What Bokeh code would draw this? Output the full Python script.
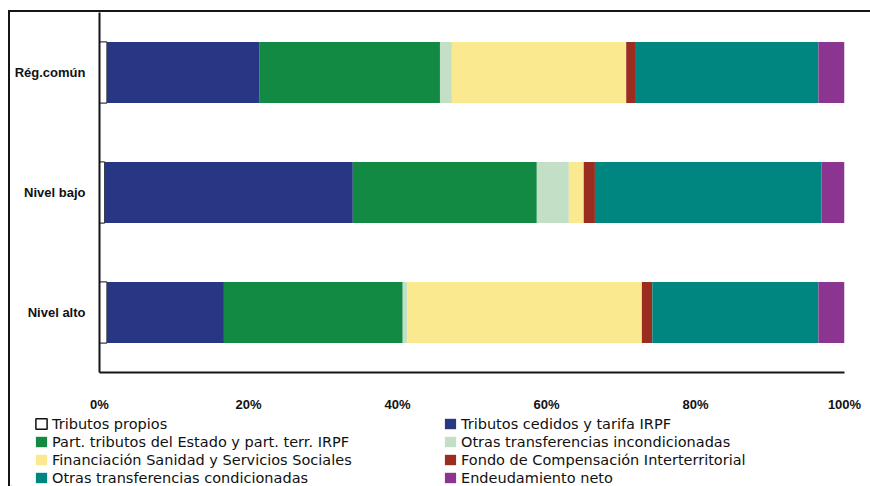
from bokeh.plotting import figure
from bokeh.layouts import column
from bokeh.models import Legend, LegendItem, Range1d, FactorRange, FixedTicker, PrintfTickFormatter
from bokeh.embed import file_html
from bokeh.resources import INLINE

# Regional groups (top to bottom) and the share (%) of each financing source
groups = ["Rég.común", "Nivel bajo", "Nivel alto"]

tributos_propios = [1.0, 0.7, 1.0]
tributos_cedidos = [20.5, 33.3, 15.7]
part_tributos_estado = [24.2, 24.7, 24.0]
otras_incondicionadas = [1.6, 4.3, 0.6]
financiacion_sanidad = [23.4, 2.0, 31.5]
fondo_compensacion = [1.3, 1.5, 1.4]
otras_condicionadas = [24.5, 30.4, 22.3]
endeudamiento_neto = [3.5, 3.1, 3.5]

series_keys = ["propios", "cedidos", "part", "incond", "sanidad", "fci", "cond", "deuda"]
series_labels = [
    "Tributos propios",
    "Tributos cedidos y tarifa IRPF",
    "Part. tributos del Estado y part. terr. IRPF",
    "Otras transferencias incondicionadas",
    "Financiación Sanidad y Servicios Sociales",
    "Fondo de Compensación Interterritorial",
    "Otras transferencias condicionadas",
    "Endeudamiento neto",
]
series_colors = ["#ffffff", "#283783", "#138a43", "#c3e0c6",
                 "#fae98f", "#9b2d20", "#008681", "#8b3590"]
series_lines = ["#111111", None, None, None, None, None, None, None]
x_ticks = [0, 20, 40, 60, 80, 100]

data = dict(
    group=groups,
    propios=tributos_propios,
    cedidos=tributos_cedidos,
    part=part_tributos_estado,
    incond=otras_incondicionadas,
    sanidad=financiacion_sanidad,
    fci=fondo_compensacion,
    cond=otras_condicionadas,
    deuda=endeudamiento_neto,
)

# --- stacked bar chart ---
p = figure(
    width=860, height=402,
    y_range=FactorRange(*reversed(groups), range_padding=0),
    x_range=Range1d(0, 100),
    output_backend="svg", toolbar_location=None, title=None,
    min_border_left=89, min_border_right=26, min_border_top=0, min_border_bottom=40,
)
p.frame_align = False

p.hbar_stack(
    series_keys, y="group", height=0.51, source=data,
    fill_color=series_colors, line_color=series_lines, line_width=1,
)

p.outline_line_color = None
p.grid.visible = False

p.xaxis.ticker = FixedTicker(ticks=x_ticks)
p.xaxis.formatter = PrintfTickFormatter(format="%d%%")
p.xaxis.major_tick_line_color = None
p.xaxis.minor_tick_line_color = None
p.xaxis.major_label_standoff = 18
p.xaxis.axis_line_width = 2
p.xaxis.axis_line_color = "#151515"
p.xaxis.major_label_text_font = "Liberation Sans"
p.xaxis.major_label_text_font_style = "bold"
p.xaxis.major_label_text_font_size = "13px"
p.xaxis.major_label_text_color = "#111111"

p.yaxis.major_tick_line_color = None
p.yaxis.minor_tick_line_color = None
p.yaxis.major_label_standoff = 8
p.yaxis.axis_line_width = 2
p.yaxis.axis_line_color = "#151515"
p.yaxis.major_label_text_font = "Liberation Sans"
p.yaxis.major_label_text_font_style = "bold"
p.yaxis.major_label_text_font_size = "13px"
p.yaxis.major_label_text_color = "#111111"

# --- legend strip below the chart: two columns, read row by row ---
lg = figure(
    width=860, height=72, x_range=Range1d(0, 860), y_range=Range1d(0, 72),
    x_axis_location=None, y_axis_location=None,
    output_backend="svg", toolbar_location=None, title=None,
    min_border=0, min_border_left=0, min_border_right=0,
    min_border_top=0, min_border_bottom=0,
)
lg.frame_align = False
lg.grid.visible = False
lg.outline_line_color = None

# swatch renderers, kept outside the visible range; only their legend glyphs show
swatches = [
    lg.hbar(y=[-10], left=[0], right=[1], height=1,
            fill_color=c, line_color=lc, line_width=1.5)
    for c, lc in zip(series_colors, series_lines)
]

items = [LegendItem(label=lbl, renderers=[r]) for lbl, r in zip(series_labels, swatches)]
# the legend fills columns first, so put even entries in column 1 and odd ones in column 2
ordered = items[0::2] + items[1::2]
legend = Legend(
    items=ordered, ncols=2, location=(24, 0),
    padding=0, margin=0, spacing=1, label_standoff=4,
    glyph_width=14, glyph_height=13, label_height=17, label_width=390,
    label_text_font="DejaVu Sans", label_text_font_size="14.5px",
    label_text_color="#111111",
    border_line_color=None, background_fill_alpha=0,
)
lg.add_layout(legend, "center")

layout = column(
    p, lg, spacing=0, margin=(10, 0, 0, 8),
    styles={"border-left": "2px solid #151515", "border-top": "2px solid #151515"},
)

open("out.html", "w").write(file_html(layout, INLINE))
